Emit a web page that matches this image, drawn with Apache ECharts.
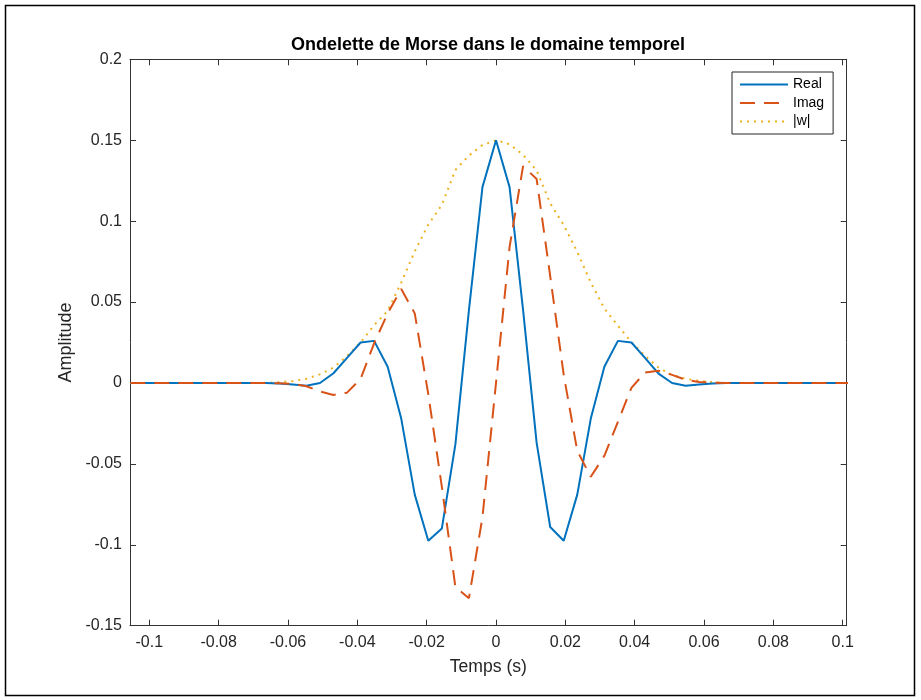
<!DOCTYPE html>
<html>
<head>
<meta charset="utf-8">
<script src="https://cdn.jsdelivr.net/npm/echarts@6/dist/echarts.min.js"></script>
<style>
  html, body { margin: 0; padding: 0; background: #fff; }
  #chart { width: 921px; height: 700px; }
</style>
</head>
<body>
<div id="chart"></div>
<script>
// Time samples (s), fs = 256 Hz
const temps = [
  -0.10547, -0.10156, -0.09766, -0.09375, -0.08984, -0.08594, -0.08203, -0.07813, -0.07422, -0.07031,
  -0.06641, -0.0625, -0.05859, -0.05469, -0.05078, -0.04688, -0.04297, -0.03906, -0.03516, -0.03125,
  -0.02734, -0.02344, -0.01953, -0.01563, -0.01172, -0.00781, -0.00391, 0, 0.00391, 0.00781,
  0.01172, 0.01563, 0.01953, 0.02344, 0.02734, 0.03125, 0.03516, 0.03906, 0.04297, 0.04688,
  0.05078, 0.05469, 0.05859, 0.0625, 0.06641, 0.07031, 0.07422, 0.07813, 0.08203, 0.08594,
  0.08984, 0.09375, 0.09766, 0.10156
];

// Real part of the wavelet
const reel = [
  0, 0, 0, 0, 0, 0, 0, 0, 0, 0,
  0, -0.0004, -0.001, -0.0017, 0.0, 0.006, 0.0155, 0.025, 0.026, 0.010,
  -0.022, -0.069, -0.0975, -0.090, -0.038, 0.045, 0.121, 0.150, 0.121, 0.045,
  -0.037, -0.089, -0.0975, -0.069, -0.022, 0.010, 0.026, 0.025, 0.0155, 0.0058,
  0.0, -0.0017, -0.001, -0.0004, 0, 0, 0, 0, 0, 0,
  0, 0, 0, 0
];

// Imaginary part of the wavelet
const imag = [
  0, 0, 0, 0, 0, 0, 0, 0, 0, 0,
  0, -0.0002, -0.0006, -0.002, -0.0052, -0.0074, -0.006, 0.0025, 0.0245, 0.043,
  0.058, 0.043, -0.007, -0.064, -0.126, -0.133, -0.083, 0, 0.084, 0.134,
  0.126, 0.066, 0.005, -0.042, -0.058, -0.045, -0.024, -0.003, 0.0065, 0.0075,
  0.005, 0.002, 0.0006, 0.0002, 0, 0, 0, 0, 0, 0,
  0, 0, 0, 0
];

// Modulus |w|
const module = [
  0, 0, 0, 0, 0, 0, 0, 0, 0, 0,
  0, 0.0005, 0.0012, 0.0026, 0.0053, 0.0095, 0.0166, 0.0251, 0.0357, 0.0445,
  0.062, 0.0813, 0.0978, 0.110, 0.1316, 0.1405, 0.147, 0.150, 0.1475, 0.141,
  0.1313, 0.111, 0.0976, 0.081, 0.062, 0.046, 0.0354, 0.0252, 0.0168, 0.0095,
  0.005, 0.0026, 0.0012, 0.0005, 0, 0, 0, 0, 0, 0,
  0, 0, 0, 0
];

const nomsSeries = ['Real', 'Imag', '|w|'];
const xTicks = [-0.1, -0.08, -0.06, -0.04, -0.02, 0, 0.02, 0.04, 0.06, 0.08, 0.1];
const yTicks = [-0.15, -0.1, -0.05, 0, 0.05, 0.1, 0.15, 0.2];

const pairs = (ys) => temps.map((t, i) => [t, ys[i]]);
const fmt = (v) => String(parseFloat(Number(v).toFixed(4)));

const axisColor = '#333333';
const labelColor = '#262626';
const police = '"Liberation Sans", Arial, Helvetica, sans-serif';

const xMin = -0.10557, xMax = 0.10115;
const yMin = -0.15, yMax = 0.2;

const chart = echarts.init(document.getElementById('chart'), null, { renderer: 'canvas' });

const xCommon = {
  type: 'value', min: xMin, max: xMax,
  axisLine: { show: true, onZero: false, lineStyle: { color: axisColor, width: 1 } },
  axisTick: { show: true, inside: true, length: 6, customValues: xTicks, lineStyle: { color: axisColor } },
  splitLine: { show: false }
};
const yCommon = {
  type: 'value', min: yMin, max: yMax,
  axisLine: { show: true, onZero: false, lineStyle: { color: axisColor, width: 1 } },
  axisTick: { show: true, inside: true, length: 6, customValues: yTicks, lineStyle: { color: axisColor } },
  splitLine: { show: false }
};

chart.setOption({
  animation: false,
  backgroundColor: '#ffffff',
  textStyle: { fontFamily: police },
  grid: { left: 130, right: 74.3, top: 59.3, bottom: 74.3, containLabel: false },
  graphic: [
    {
      type: 'rect', silent: true, z: -10,
      shape: { x: 5.5, y: 5.5, width: 909, height: 690 },
      style: { fill: null, stroke: '#000000', lineWidth: 1.5 }
    },
    {
      type: 'text', silent: true,
      x: 488, y: 45,
      style: {
        text: 'Ondelette de Morse dans le domaine temporel',
        fill: '#000000', fontFamily: police, fontWeight: 'bold', fontSize: 18,
        align: 'center', verticalAlign: 'middle'
      }
    }
  ],
  legend: {
    orient: 'vertical',
    left: 732, top: 72,
    padding: [5.5, 9, 5.5, 7],
    itemWidth: 48, itemHeight: 14, itemGap: 4.5,
    backgroundColor: '#ffffff',
    borderColor: '#262626', borderWidth: 1, borderRadius: 0,
    itemStyle: { opacity: 0 },
    textStyle: { fontFamily: police, fontSize: 14, color: '#000000' },
    data: nomsSeries
  },
  xAxis: [
    Object.assign({}, xCommon, {
      position: 'bottom',
      name: 'Temps (s)', nameLocation: 'middle', nameGap: 32,
      nameTextStyle: { fontFamily: police, fontSize: 17.6, color: labelColor },
      axisLabel: { show: true, margin: 9, fontSize: 16, color: labelColor, fontFamily: police,
                   customValues: xTicks, formatter: fmt, hideOverlap: false }
    }),
    Object.assign({}, xCommon, {
      position: 'top',
      axisLabel: { show: false }
    })
  ],
  yAxis: [
    Object.assign({}, yCommon, {
      position: 'left',
      name: 'Amplitude', nameLocation: 'middle', nameGap: 48, nameRotate: 90,
      nameTextStyle: { fontFamily: police, fontSize: 18, color: labelColor },
      axisLabel: { show: true, margin: 8, fontSize: 16, color: labelColor, fontFamily: police,
                   customValues: yTicks, formatter: fmt, hideOverlap: false }
    }),
    Object.assign({}, yCommon, {
      position: 'right',
      axisLabel: { show: false }
    })
  ],
  series: [
    {
      name: nomsSeries[0], type: 'line', xAxisIndex: 0, yAxisIndex: 0,
      data: pairs(reel), symbol: 'none', clip: true, z: 3,
      lineStyle: { color: '#0072BD', width: 2 },
      itemStyle: { color: '#0072BD' }
    },
    {
      name: nomsSeries[1], type: 'line', xAxisIndex: 0, yAxisIndex: 0,
      data: pairs(imag), symbol: 'none', clip: true, z: 4,
      lineStyle: { color: '#D95319', width: 2, type: [15, 9] },
      itemStyle: { color: '#D95319' }
    },
    {
      name: nomsSeries[2], type: 'line', xAxisIndex: 0, yAxisIndex: 0,
      data: pairs(module), symbol: 'none', clip: true, z: 2,
      lineStyle: { color: '#EDB120', width: 2, type: [2, 5] },
      itemStyle: { color: '#EDB120' }
    }
  ]
});
</script>
</body>
</html>
